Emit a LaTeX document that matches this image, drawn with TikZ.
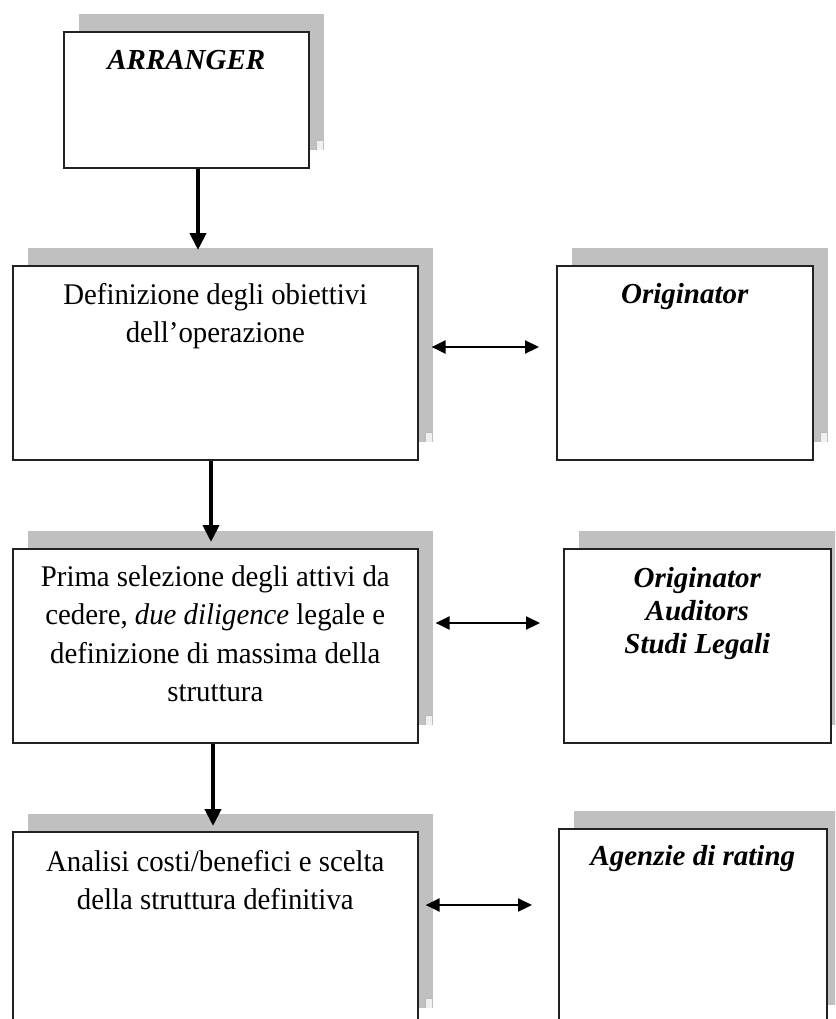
\documentclass[tikz,border=0pt]{standalone}
\usepackage{fontspec}
\setmainfont{Liberation Serif}[FakeStretch=0.96]
\newfontfamily\actorfont{Liberation Serif}
\usetikzlibrary{arrows.meta,calc}
\definecolor{shadowgray}{RGB}{192,192,192}
\definecolor{framegray}{RGB}{34,34,34}
% invisible strut that fixes the height above the first baseline
\newcommand\lead{\rule{0pt}{27pt}}
\tikzset{
  panel/.style={rectangle, draw=framegray, line width=1.6pt, fill=white,
    inner sep=0pt, anchor=north west},
  panelshadow/.style={rectangle, fill=shadowgray, inner sep=0pt, anchor=north west},
  panelw/.style={minimum width=#1pt},
  panelh/.style={minimum height=#1pt},
  paneltext/.style={inner sep=0pt, anchor=north, align=center,
    font=\fontsize{30}{38.5}\selectfont},
  actortext/.style={inner sep=0pt, anchor=north, align=center,
    font=\actorfont\fontsize{29}{33}\selectfont\bfseries\itshape},
  flow/.style={draw=black, line width=4pt,
    -{Triangle[length=17pt,width=16pt]}},
  exchange/.style={draw=black, line width=2.2pt,
    {Triangle[length=14pt,width=13pt]}-{Triangle[length=14pt,width=13pt]}},
  cornermark/.style={draw=gray!55, line width=0.8pt}
}
% small corner tick in the lower right of a shadow
\newcommand\shadowtick[1]{%
  \fill[gray!12] ($(#1.south east)+(-8,-10)$) rectangle ($(#1.south east)+(-1,0)$);
  \draw[cornermark] ($(#1.south east)+(-8,0)$) -- ($(#1.south east)+(-8,-10)$)
    -- ($(#1.south east)+(-1,-10)$);}
\begin{document}
\begin{tikzpicture}[x=1pt,y=-1pt]
\useasboundingbox (0,0) rectangle (835,1019);
\clip (0,0) rectangle (835,1019);

% ---- ARRANGER
\node[panelshadow, panelw=245, panelh=136] (As) at (79,14) {};
\shadowtick{As}
\node[panel, panelw=245, panelh=136] (A) at (63,31) {};
\node[actortext] (At) at ($(A.north)+(0,11)$) {\lead ARRANGER};

% ---- step 1
\node[panelshadow, panelw=405, panelh=194] (Ds) at (28,248) {};
\shadowtick{Ds}
\node[panel, panelw=405, panelh=194] (D) at (12,265) {};
\node[paneltext] (Dt) at ($(D.north)+(0,12)$)
  {\lead Definizione degli obiettivi\\dell’operazione};

\node[panelshadow, panelw=256, panelh=194] (Os) at (572,248) {};
\shadowtick{Os}
\node[panel, panelw=256, panelh=194] (O) at (556,265) {};
\node[actortext] (Ot) at ($(O.north)+(0,11)$) {\lead Originator};

% ---- step 2
\node[panelshadow, panelw=405, panelh=194] (Ps) at (28,531) {};
\shadowtick{Ps}
\node[panel, panelw=405, panelh=194] (P) at (12,548) {};
\node[paneltext] (Pt) at ($(P.north)+(0,11)$)
  {\lead Prima selezione degli attivi da\\
   cedere, \textit{due diligence} legale e\\
   definizione di massima della\\
   struttura};

\begin{scope}
  \clip (540,500) rectangle (835,730);
  \node[panelshadow, panelw=267, panelh=194] (Qs) at (579,531) {};
\end{scope}
\begin{scope}
  \clip (540,500) rectangle (835,743);
  \node[panel, panelw=267, panelh=194] (Q) at (563,548) {};
\end{scope}
\node[actortext] (Qt) at ($(Q.north)+(0,12)$)
  {\lead Originator\\Auditors\\Studi Legali};

% ---- step 3
\node[panelshadow, panelw=405, panelh=194] (Ns) at (28,814) {};
\shadowtick{Ns}
\node[panel, panelw=405, panelh=194] (N) at (12,831) {};
\node[paneltext] (Nt) at ($(N.north)+(0,13)$)
  {\lead Analisi costi/benefici e scelta\\della struttura definitiva};

\node[panelshadow, panelw=268, panelh=194] (Rs) at (574,811) {};
\node[panel, panelw=268, panelh=194] (R) at (558,828) {};
\node[actortext] (Rt) at ($(R.north)+(0,10)$) {\lead Agenzie di rating};

% ---- downward flow
\coordinate (t1) at (198,250);
\coordinate (t2) at (211,542);
\coordinate (t3) at (213,826);
\draw[flow] (A.south -| t1) -- (t1);
\draw[flow] (D.south -| t2) -- (t2);
\draw[flow] (P.south -| t3) -- (t3);

% ---- exchanges with the other parties
\coordinate (y1) at (0,347);
\coordinate (y2) at (0,623);
\coordinate (y3) at (0,905);
\draw[exchange] ($(D.east |- y1)+(13,0)$) -- ($(O.west |- y1)+(-17,0)$);
\draw[exchange] ($(P.east |- y2)+(17,0)$) -- ($(Q.west |- y2)+(-23,0)$);
\draw[exchange] ($(N.east |- y3)+(7,0)$) -- ($(R.west |- y3)+(-26,0)$);
\end{tikzpicture}
\end{document}
